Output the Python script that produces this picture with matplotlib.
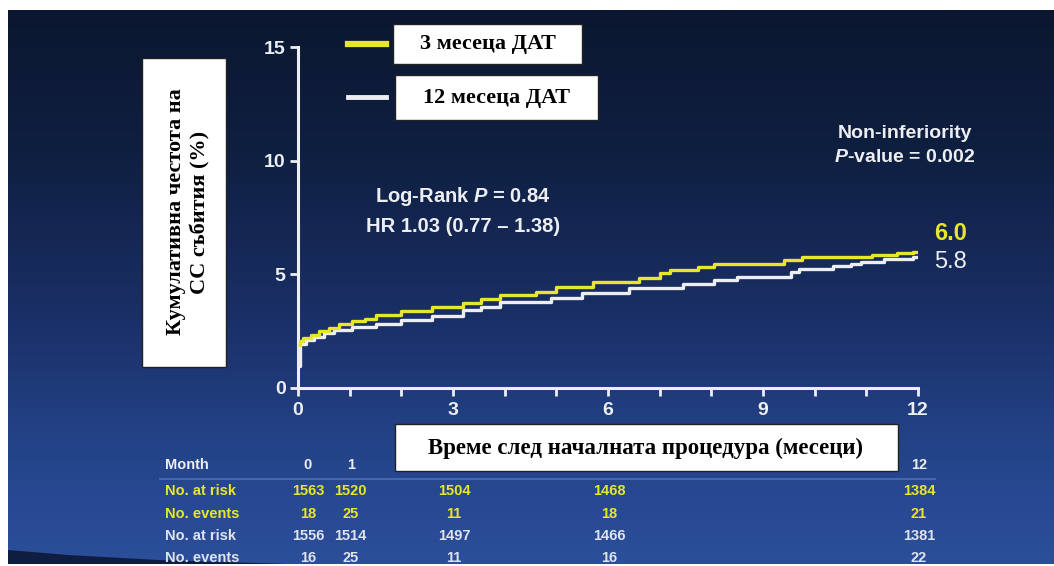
import numpy as np
import matplotlib
matplotlib.use("Agg")
import matplotlib.pyplot as plt
from matplotlib.lines import Line2D
from matplotlib.patches import Rectangle, Polygon
from matplotlib.colors import LinearSegmentedColormap

# ---------------- data ----------------
months_3m = [0.0, 0.03, 0.1, 0.25, 0.4, 0.6, 0.8, 1.05, 1.3, 1.5, 2.0, 2.6, 3.2, 3.55, 3.9,
             4.6, 5.0, 5.7, 6.6, 7.0, 7.2, 7.75, 8.05, 9.4, 9.75, 11.1, 11.6, 11.9, 12.0]
cum_3m = [1.9, 2.05, 2.2, 2.35, 2.5, 2.65, 2.8, 2.95, 3.05, 3.2, 3.4, 3.55, 3.72, 3.92, 4.08,
          4.22, 4.45, 4.65, 4.85, 5.08, 5.18, 5.32, 5.45, 5.62, 5.75, 5.84, 5.92, 6.0, 6.0]

months_12m = [0.0, 0.04, 0.15, 0.3, 0.5, 0.7, 1.05, 1.5, 2.0, 2.6, 3.2, 3.55, 3.9, 4.9, 5.5,
              6.4, 7.45, 8.05, 8.5, 9.55, 9.7, 10.35, 10.7, 10.9, 11.35, 11.9, 12.0]
cum_12m = [0.95, 1.95, 2.1, 2.25, 2.4, 2.55, 2.68, 2.83, 2.98, 3.18, 3.42, 3.58, 3.78, 3.98, 4.2,
           4.42, 4.58, 4.74, 4.9, 5.1, 5.25, 5.36, 5.47, 5.55, 5.68, 5.76, 5.8]

series_labels = ["3 месеца ДАТ", "12 месеца ДАТ"]
final_labels = ["6.0", "5.8"]

table_months = [0, 1, 3, 6, 12]
table_rows = ["No. at risk", "No. events", "No. at risk", "No. events"]
at_risk_3m = [1563, 1520, 1504, 1468, 1384]
events_3m = [18, 25, 11, 18, 21]
at_risk_12m = [1556, 1514, 1497, 1466, 1381]
events_12m = [16, 25, 11, 16, 22]

y_ticks = [0, 5, 10, 15]
x_major = [0, 3, 6, 9, 12]
x_minor = list(range(13))

ylabel_lines = ["Кумулативна честота на", "СС събития (%)"]
xlabel = "Време след началната процедура (месеци)"

# ---------------- style ----------------
W, H = 1054, 566
YEL = "#e8e62c"
WHT = "#eceef2"
SANS = "Liberation Sans"
SERIF = "Liberation Serif"

plt.rcParams["mathtext.fontset"] = "custom"
plt.rcParams["mathtext.bfit"] = "Liberation Sans:bold:italic"

fig = plt.figure(figsize=(W / 100, H / 100), dpi=100, facecolor="white")

def fx(x):
    return x / W

def fy(y):
    return 1 - y / H

# background panel with gradient
PT, PB = 10, 564
bg = fig.add_axes([fx(8), fy(PB), fx(1046), (PB - PT) / H])
bg.set_axis_off()
cmap = LinearSegmentedColormap.from_list(
    "bg", [(0.0, "#0b1730"), (0.25, "#0f1f40"), (0.55, "#1a2f66"), (0.8, "#24448a"), (1.0, "#2c4f9a")])
grad = np.linspace(0, 1, 256).reshape(-1, 1)
bg.imshow(grad, aspect="auto", cmap=cmap, extent=[0, 1, 0, 1], origin="upper")
ph = PB - PT
bg.add_patch(Polygon([[0, 0], [0, 14 / ph], [60 / 1046, 9 / ph], [150 / 1046, 4 / ph], [280 / 1046, 0]],
                     closed=True, facecolor="#0c1838", edgecolor="none", alpha=0.9))
bg.set_xlim(0, 1)
bg.set_ylim(0, 1)

# main axes
ax = fig.add_axes([fx(298), fy(388), fx(620), 341 / H])
ax.patch.set_alpha(0)
ax.step(months_12m, cum_12m, where="post", color=WHT, lw=2.4, zorder=3, solid_capstyle="butt")
ax.step(months_3m, cum_3m, where="post", color=YEL, lw=2.4, zorder=4, solid_capstyle="butt")
ax.set_xlim(0, 12)
ax.set_ylim(0, 15)
for s in ["top", "right"]:
    ax.spines[s].set_visible(False)
for s in ["left", "bottom"]:
    ax.spines[s].set_color(WHT)
    ax.spines[s].set_linewidth(2.2)
ax.set_yticks(y_ticks)
ax.set_xticks(x_major)
ax.set_xticks(x_minor, minor=True)
ax.tick_params(axis="both", which="both", colors=WHT, width=2, length=6, direction="out")
ax.tick_params(axis="y", pad=3)
ax.tick_params(axis="x", pad=4)
for lab in ax.get_xticklabels() + ax.get_yticklabels():
    lab.set_fontfamily(SANS)
    lab.set_fontweight("bold")
    lab.set_fontsize(14)
    lab.set_color(WHT)

# annotations
fig.text(fx(463), fy(197), "Log-Rank $\\mathbfit{P}$ = 0.84", ha="center", va="center",
         color=WHT, fontsize=14.5, fontweight="bold", family=SANS)
fig.text(fx(463), fy(226), "HR 1.03 (0.77 – 1.38)", ha="center", va="center",
         color=WHT, fontsize=14.5, fontweight="bold", family=SANS)
fig.text(fx(905), fy(133), "Non-inferiority", ha="center", va="center",
         color=WHT, fontsize=14, fontweight="bold", family=SANS)
fig.text(fx(905), fy(158), "$\\mathbfit{P}$-value = 0.002", ha="center", va="center",
         color=WHT, fontsize=14, fontweight="bold", family=SANS)
fig.text(fx(934), fy(233), final_labels[0], ha="left", va="center",
         color=YEL, fontsize=17, fontweight="bold", family=SANS)
fig.text(fx(934), fy(262), final_labels[1], ha="left", va="center",
         color=WHT, fontsize=17, family=SANS)

# legend
fig.add_artist(Line2D([fx(348), fx(386)], [fy(44), fy(44)], color=YEL, lw=4.5))
fig.add_artist(Line2D([fx(348), fx(386)], [fy(97), fy(97)], color=WHT, lw=3.5))
for (x0, y0, x1, y1), txt in zip([(393, 24, 582, 64), (395, 75, 598, 120)], series_labels):
    fig.add_artist(Rectangle((fx(x0), fy(y1)), fx(x1 - x0), (y1 - y0) / H,
                             facecolor="white", edgecolor="#222222", lw=1.0))
    fig.text(fx((x0 + x1) / 2), fy((y0 + y1) / 2), txt, ha="center", va="center",
             color="black", fontsize=16, fontweight="bold", family=SERIF)

# y label box
fig.add_artist(Rectangle((fx(142), fy(367)), fx(84), 309 / H,
                         facecolor="white", edgecolor="#222222", lw=1.0))
fig.text(fx(188), fy(212), "\n".join(ylabel_lines), ha="center", va="center", rotation=90,
         color="black", fontsize=16, fontweight="bold", family=SERIF, linespacing=1.3,
         multialignment="center")

# risk table
row_y = [491, 514, 536, 558]
row_colors = [YEL, YEL, "#dfe3ee", "#dfe3ee"]
row_values = [at_risk_3m, events_3m, at_risk_12m, events_12m]
fig.text(fx(165), fy(465), "Month", ha="left", va="center", color=WHT,
         fontsize=10.5, fontweight="bold", family=SANS)
fig.add_artist(Line2D([fx(160), fx(935)], [fy(479), fy(479)], color="#4d6fb8", lw=1.2))

def col_x(m):
    # centre of table column in figure fraction, based on axis position
    disp = ax.transData.transform((m, 0))
    fpos = fig.transFigure.inverted().transform(disp)
    return fpos[0] + (fx(10) if m == 0 else fx(1))

for m in table_months:
    fig.text(col_x(m), fy(465), str(m), ha="center", va="center", color=WHT,
             fontsize=10.5, fontweight="bold", family=SANS)
for ry, rc, rl, vals in zip(row_y, row_colors, table_rows, row_values):
    fig.text(fx(165), fy(ry), rl, ha="left", va="center", color=rc,
             fontsize=10.5, fontweight="bold", family=SANS)
    for m, v in zip(table_months, vals):
        fig.text(col_x(m), fy(ry), str(v), ha="center", va="center", color=rc,
                 fontsize=10.5, fontweight="bold", family=SANS)

# x label box (drawn over the Month row)
fig.add_artist(Rectangle((fx(395), fy(471)), fx(503), 47 / H,
                         facecolor="white", edgecolor="#222222", lw=1.0, zorder=5))
fig.text(fx(646), fy(448), xlabel, ha="center", va="center", color="black",
         fontsize=16.5, fontweight="bold", family=SERIF, zorder=6)

fig.savefig("out.png", dpi=100, facecolor="white")
